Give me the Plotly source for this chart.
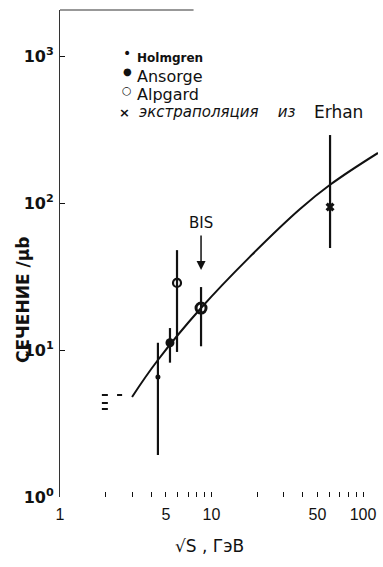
import numpy as np
import plotly.graph_objects as go

# ---- data ----
holm_x = [4.43]; holm_y = [6.55]; holm_hi = [11.2]; holm_lo = [1.93]
ans_x = [5.32]; ans_y = [11.2]; ans_hi = [14.1]; ans_lo = [8.2]
alp_x = [5.92]; alp_y = [28.6]; alp_hi = [47.8]; alp_lo = [9.7]
bis_x = [8.53]; bis_y = [19.3]; bis_hi = [26.8]; bis_lo = [10.6]
erh_x = [60.6]; erh_y = [94.0]; erh_hi = [290.0]; erh_lo = [49.4]

curve_x = [2.99, 4.43, 8.53, 17.9, 38.4, 60.6, 125.6]
curve_y = [4.79, 8.55, 19.3, 43.0, 91.0, 133.0, 219.0]

# short horizontal marks at low energy (segments separated by None)
mark_x = [1.89, 2.07, None, 2.38, 2.57, None, 1.89, 2.07, None, 1.89, 2.07]
mark_y = [4.94, 4.94, None, 4.94, 4.94, None, 4.36, 4.36, None, 3.97, 3.97]

x_tickvals = [1, 2, 3, 4, 5, 6, 7, 8, 9, 10, 20, 30, 40, 50, 60, 70, 80, 90, 100]
x_ticktext = ["1", "", "", "", "5", "", "", "", "", "10", "", "", "", "50", "", "", "", "", "100"]
y_tickvals = [1, 10, 100, 1000]
y_ticktext = ["10<sup>0</sup>", "10<sup>1</sup>", "10<sup>2</sup>", "10<sup>3</sup>"]

BLACK = "#111111"


def err(y, hi, lo):
    return dict(type="data", symmetric=False,
                array=[h - v for h, v in zip(hi, y)],
                arrayminus=[v - l for v, l in zip(y, lo)],
                color=BLACK, thickness=2.2, width=0)


fig = go.Figure()
fig.add_trace(go.Scatter(x=curve_x, y=curve_y, mode="lines",
                         line=dict(color=BLACK, width=2, shape="spline", smoothing=1.2),
                         showlegend=False))
fig.add_trace(go.Scatter(x=mark_x, y=mark_y, mode="lines",
                         line=dict(color=BLACK, width=2), showlegend=False))
fig.add_trace(go.Scatter(x=holm_x, y=holm_y, mode="markers", name="Holmgren",
                         marker=dict(symbol="circle", size=5, color=BLACK),
                         error_y=err(holm_y, holm_hi, holm_lo), showlegend=False))
fig.add_trace(go.Scatter(x=ans_x, y=ans_y, mode="markers", name="Ansorge",
                         marker=dict(symbol="circle", size=9, color=BLACK),
                         error_y=err(ans_y, ans_hi, ans_lo), showlegend=False))
fig.add_trace(go.Scatter(x=alp_x, y=alp_y, mode="markers", name="Alpgard",
                         marker=dict(symbol="circle-open", size=8, color=BLACK,
                                     line=dict(width=2.2, color=BLACK)),
                         error_y=err(alp_y, alp_hi, alp_lo), showlegend=False))
fig.add_trace(go.Scatter(x=bis_x, y=bis_y, mode="markers", name="BIS",
                         marker=dict(symbol="circle-open", size=10, color=BLACK,
                                     line=dict(width=3, color=BLACK)),
                         error_y=err(bis_y, bis_hi, bis_lo), showlegend=False))
fig.add_trace(go.Scatter(x=erh_x, y=erh_y, mode="markers", name="Erhan",
                         marker=dict(symbol="x", size=8, color=BLACK),
                         error_y=err(erh_y, erh_hi, erh_lo), showlegend=False))

FONT = "DejaVu Sans"
ann = []


def px(xp):
    return (xp - 60) / 318.0


def py(yp):
    return (497 - yp) / 487.0


def text(t, x, y, size, xanchor="left", weight="normal", **kw):
    ann.append(dict(text=t, x=px(x), y=py(y), xref="paper", yref="paper",
                    xanchor=xanchor, yanchor="middle", showarrow=False,
                    font=dict(family=FONT, size=size, color=BLACK, weight=weight), **kw))


# legend-like labels
text("•", 127, 53, 14, xanchor="center")
text("Holmgren", 135, 58, 12, weight="bold")
text("●", 127, 71, 10, xanchor="center")
text("Ansorge", 135, 76, 16)
text("○", 127, 90, 11, xanchor="center", weight="bold")
text("Alpgard", 135, 94, 16)
text("<b>×</b>", 124, 112, 13, xanchor="center")
text("<i>экстраполяция    из</i>", 137, 112, 15)
text("Erhan", 312, 112, 17)

# BIS label and arrow
ann.append(dict(text="BIS", x=np.log10(bis_x[0]), y=(497 - 223) / 147.0,
                xref="x", yref="y", showarrow=False, xanchor="center", yanchor="middle",
                font=dict(family=FONT, size=15, color=BLACK)))
ann.append(dict(text="", x=np.log10(bis_x[0]), y=(497 - 270) / 147.0, xref="x", yref="y",
                showarrow=True, arrowhead=2, arrowsize=1.2, arrowwidth=1.5,
                arrowcolor=BLACK, ax=0, ay=-36))

# axis titles
text("СЕЧЕНИЕ /μb", 23, 300, 17, xanchor="center", weight="bold", textangle=-90)
text("√S , ГэВ", 209, 546, 17, xanchor="center")

fig.update_layout(
    width=383, height=567,
    margin=dict(l=60, r=5, t=10, b=70),
    paper_bgcolor="white", plot_bgcolor="white",
    annotations=ann,
    shapes=[dict(type="line", xref="paper", yref="paper", x0=0, x1=0.42, y0=1, y1=1,
                 line=dict(color="#333333", width=1.2))],
    xaxis=dict(type="log", range=[0, 2.099], showgrid=False, zeroline=False,
               showline=False, ticks="inside", ticklen=5, tickwidth=1, tickcolor=BLACK,
               tickvals=x_tickvals, ticktext=x_ticktext, ticklabelstandoff=6,
               automargin=False, ticklabeloverflow="allow",
               tickfont=dict(family="Liberation Sans", size=16, color=BLACK)),
    yaxis=dict(type="log", range=[0, 3.313], showgrid=False, zeroline=False,
               showline=True, linecolor="#333333", linewidth=1.2,
               ticks="inside", ticklen=5, tickwidth=1, tickcolor=BLACK,
               tickvals=y_tickvals, ticktext=y_ticktext, ticklabelstandoff=2,
               automargin=False,
               tickfont=dict(family=FONT, size=16, color=BLACK, weight="bold")),
)

fig.write_html("out.html", config={"displayModeBar": False},
               post_script="document.body.style.margin='0';document.body.style.overflow='hidden';")
